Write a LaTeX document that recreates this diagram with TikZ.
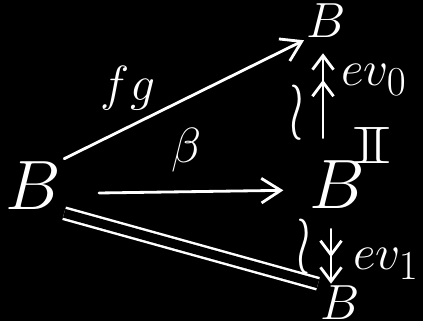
\documentclass[tikz,border=0pt]{standalone}
\usepackage{amssymb}
\usetikzlibrary{arrows.meta}
\begin{document}
\begin{tikzpicture}[x=0.02cm,y=-0.02cm,
    every node/.style={text=white, inner sep=1pt},
    big/.style={font=\Huge, scale=1.6},
    mid/.style={font=\Huge, scale=1.13},
    wave/.style={font=\Huge, xscale=1.2, yscale=1.9, inner sep=0pt},
    arr/.style={white, line width=1.6pt, line cap=round, -{Straight Barb[length=11pt,width=14pt]}},
    epi/.style={white, line width=1.6pt, line cap=round, -{Straight Barb[length=8pt,width=12pt,sep=5pt] Straight Barb[length=8pt,width=12pt]}}]
    % background
    \fill[black] (0,0) rectangle (423,321);
    \useasboundingbox (0,0) rectangle (423,321);

    % the four B's
    \node[big] (Bl) at (33,186) {$B$};
    \node[mid] (Bt) at (326,21) {$B$};
    \node[big] (Bm) at (337,185) {$B$};
    \node[mid] (Bb) at (340,303) {$B$};
    \node[font=\Huge, xscale=2.3, yscale=1.2, inner sep=0pt] (Bi) at (372,145) {$\mathbb{I}$};

    % arrows out of the left B
    \draw[arr] (Bl.north east) -- (Bt.south west);
    \node[mid] (Lfg) at (128,88) {$fg$};
    \draw[arr, shorten <=0.7cm, shorten >=0.45cm] ([yshift=-0.15cm]Bl.east) -- ([yshift=-0.1cm]Bm.west);
    \node[mid] (Lbeta) at (187,150) {$\beta$};
    \draw[white, line width=1.4pt, double=black, double distance=0.18cm] (Bl.south east) -- (Bb.north west);

    % evaluations
    \draw[epi, shorten <=0.4cm, shorten >=0.26cm] ([xshift=-0.28cm]Bm.north) -- ([xshift=-0.28cm]Bm.north |- Bt.south);
    \node[wave] (Lw0) at (297,113) {$\wr$};
    \node[mid] (Lev0) at (374,80) {$ev_0$};
    \draw[epi, shorten <=0.34cm] ([xshift=-0.12cm]Bm.south) -- ([xshift=-0.12cm]Bm.south |- Bb.north);
    \node[wave] (Lw1) at (304,247) {$\wr$};
    \node[mid] (Lev1) at (386,264) {$ev_1$};
\end{tikzpicture}
\end{document}
